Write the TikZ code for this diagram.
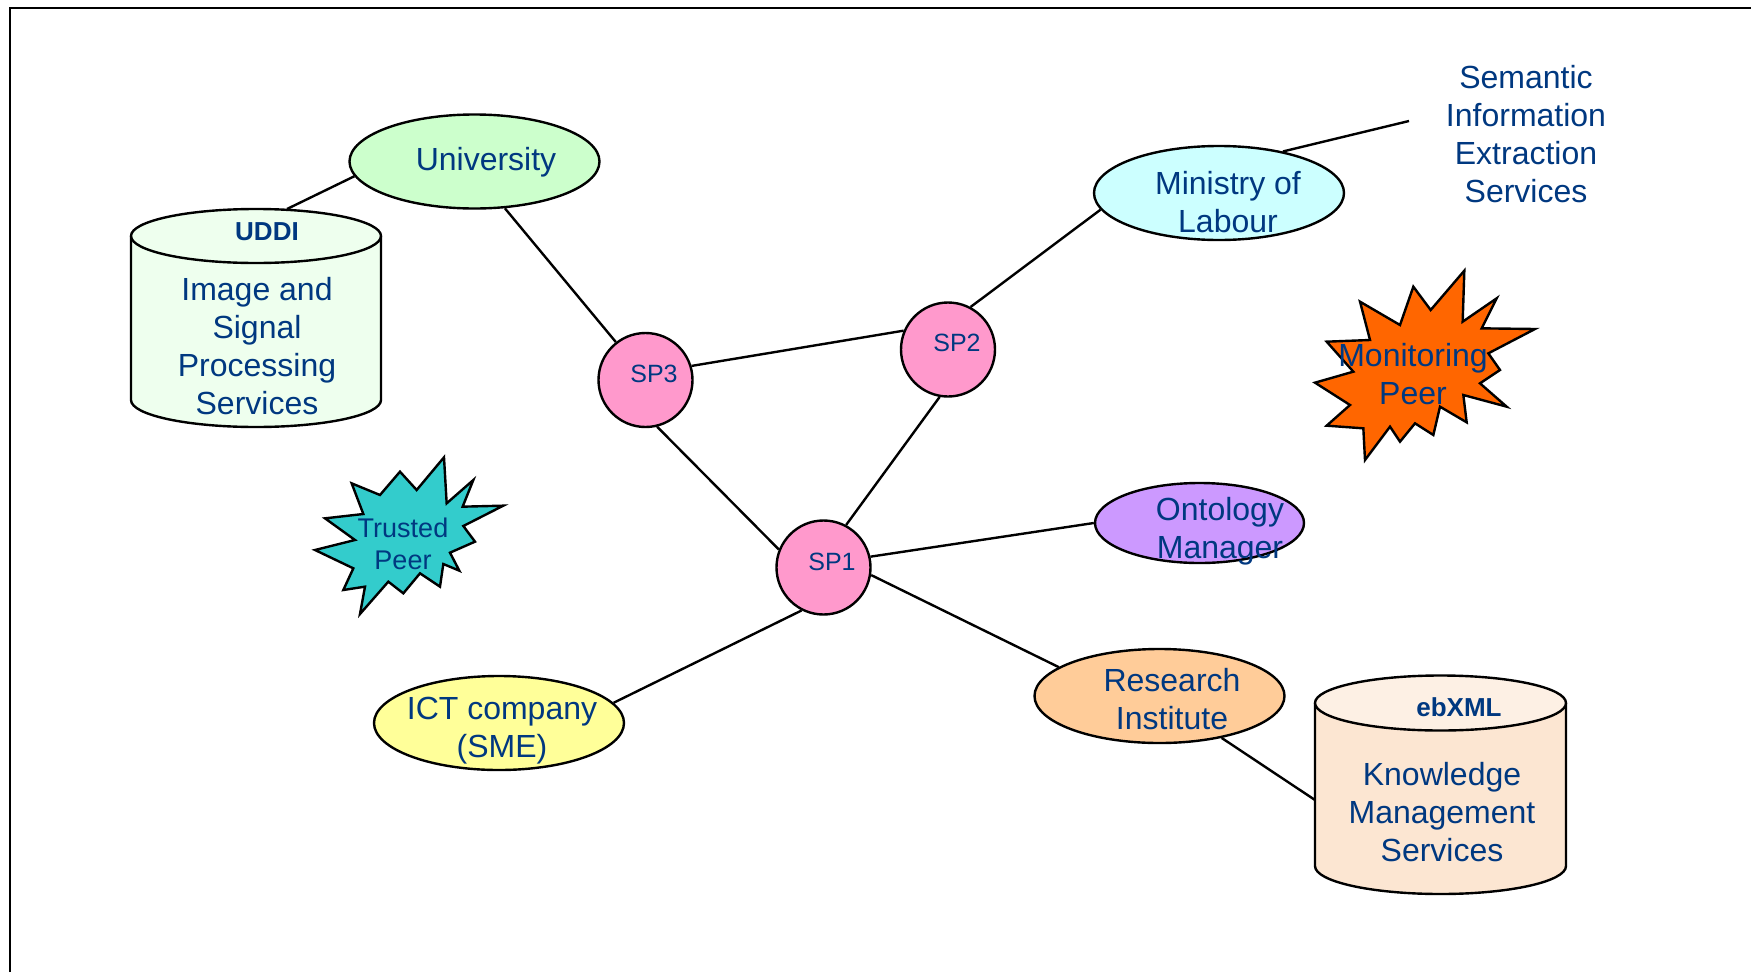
\documentclass[tikz,border=0pt]{standalone}
\usepackage{fontspec}
\setmainfont{Liberation Sans}
\usetikzlibrary{shapes.geometric}

\definecolor{txt}{RGB}{0,56,128}
\definecolor{spfill}{HTML}{FF99CC}
\definecolor{unifill}{HTML}{CCFFCC}
\definecolor{minfill}{HTML}{CCFFFF}
\definecolor{ontofill}{HTML}{CC99FF}
\definecolor{resfill}{HTML}{FFCC99}
\definecolor{ictfill}{HTML}{FFFF99}
\definecolor{trustfill}{HTML}{33CCCC}
\definecolor{monfill}{HTML}{FF6600}
\definecolor{uddifill}{HTML}{EEFFEE}
\definecolor{ebfill}{HTML}{FCE6D2}
\definecolor{ebtop}{HTML}{FDF0E4}

\begin{document}
\begin{tikzpicture}[x=1pt,y=-1pt,line width=2.4pt,
  every node/.style={text=txt,font=\fontsize{32}{38}\selectfont,align=center,inner sep=0pt},
  oval/.style={draw,ellipse,minimum width=250pt,minimum height=94pt},
  spnode/.style={draw,circle,fill=spfill,minimum size=94pt},
  sptext/.style={font=\fontsize{25}{30}\selectfont},
  cyltag/.style={font=\fontsize{26}{30}\selectfont\bfseries},
  peertext/.style={font=\fontsize{27}{32}\selectfont},
  link/.style={draw,line width=2.4pt},
  burst/.style={draw,line width=2.4pt,line join=miter}]

\useasboundingbox (0,0) rectangle (1751,972);
\fill[white] (0,0) rectangle (1751,972);

% frame
\draw[line width=2.4pt] (10,972) -- (10,8) -- (1751,8);

% UDDI registry cylinder
\fill[uddifill] (131,236) -- (131,400) arc (180:360:125pt and 27pt) -- (381,236) arc (0:180:125pt and 27pt) -- cycle;
\draw (131,236) -- (131,400) arc (180:360:125pt and 27pt) -- (381,236);
\draw (256,236) ellipse (125pt and 27pt);
\coordinate (uddi-top) at (287,209);
\node[cyltag] (uddi-tag) at (267,232) {UDDI};
\node (uddi-text) at (257,346) {Image and\\Signal\\Processing\\Services};

% ebXML registry cylinder
\fill[ebfill] (1315,703) -- (1315,866) arc (180:360:125.5pt and 28pt) -- (1566,703) arc (0:180:125.5pt and 27.5pt) -- cycle;
\draw (1315,703) -- (1315,866) arc (180:360:125.5pt and 28pt) -- (1566,703);
\draw[fill=ebtop] (1440.5,703) ellipse (125.5pt and 27.5pt);
\coordinate (eb-side) at (1315,800);
\node[cyltag] (eb-tag) at (1459,707) {ebXML};
\node (eb-text) at (1442,812) {Knowledge\\Management\\Services};

% organisations
\node[oval,fill=unifill] (uni) at (474.5,161.5) {};
\node (uni-t) at (486,162) {University};
\node[oval,fill=minfill] (min) at (1219,193) {};
\node (min-t) at (1228,202) {Ministry of\\Labour};
\node[oval,fill=ontofill,minimum width=209pt,minimum height=80pt] (onto) at (1199.5,523) {};
\node (onto-t) at (1220,531) {Ontology\\Manager};
\node[oval,fill=resfill] (res) at (1159.5,696) {};
\node (res-t) at (1172,699) {Research\\Institute};
\node[oval,fill=ictfill] (ict) at (499,723) {};
\node (ict-t) at (502,731) {ICT company\\(SME)};

\node (sem-t) at (1526,134) {Semantic\\Information\\Extraction\\Services};
\coordinate (sem-end) at (1409,121);

% super peers
\node[spnode] (sp3) at (645.5,380) {};
\node[sptext] at (654,374) {SP3};
\node[spnode] (sp2) at (948,349.5) {};
\node[sptext] at (957,343) {SP2};
\node[spnode] (sp1) at (823.5,567.5) {};
\node[sptext] at (832,562) {SP1};

% connections
\draw[link] (uddi-top) -- (uni.187);
\draw[link] (uni.-57) -- (sp3.128);
\draw[link] (sp3.17) -- (sp2.157);
\draw[link] (sp3.-76) -- (sp1.158);
\draw[link] (sp2.-100) -- (sp1.62);
\draw[link] (sp2.62) -- (min.188);
\draw[link] (min.33) -- (sem-end);
\draw[link] (sp1.13) -- (onto.west);
\draw[link] (sp1.-9) -- (res.164);
\draw[link] (sp1.243) -- (ict.10);
\draw[link] (res.-34) -- (eb-side);

% trusted peer burst
\begin{scope}[shift={(300,440)},scale=1/3]
\draw[burst,fill=trustfill] (75,235) -- (190,222) -- (155,130) -- (240,165) -- (300,95) -- (350,150)
  -- (432,52) -- (440,190) -- (520,120) -- (488,200) -- (610,197) -- (490,258) -- (525,305)
  -- (450,338) -- (478,392) -- (430,372) -- (420,440) -- (360,400) -- (310,460) -- (265,425)
  -- (180,522) -- (195,440) -- (130,450) -- (160,385) -- (45,330) -- (165,300) -- cycle;
\end{scope}
\node[peertext] (trust-t) at (403,544) {Trusted\\Peer};

% monitoring peer burst
\begin{scope}[shift={(1300,260)},scale=1/3]
\draw[burst,fill=monfill] (80,245) -- (210,240) -- (180,125) -- (300,195) -- (340,80) -- (392,150)
  -- (493,32) -- (488,185) -- (590,115) -- (545,205) -- (705,207) -- (565,280) -- (600,330)
  -- (540,370) -- (620,440) -- (490,405) -- (500,487) -- (420,440) -- (400,525) -- (345,490)
  -- (300,545) -- (270,500) -- (195,600) -- (190,505) -- (80,497) -- (150,435) -- (45,368)
  -- (160,335) -- cycle;
\end{scope}
\node (mon-t) at (1413,374) {Monitoring\\Peer};

\end{tikzpicture}
\end{document}
